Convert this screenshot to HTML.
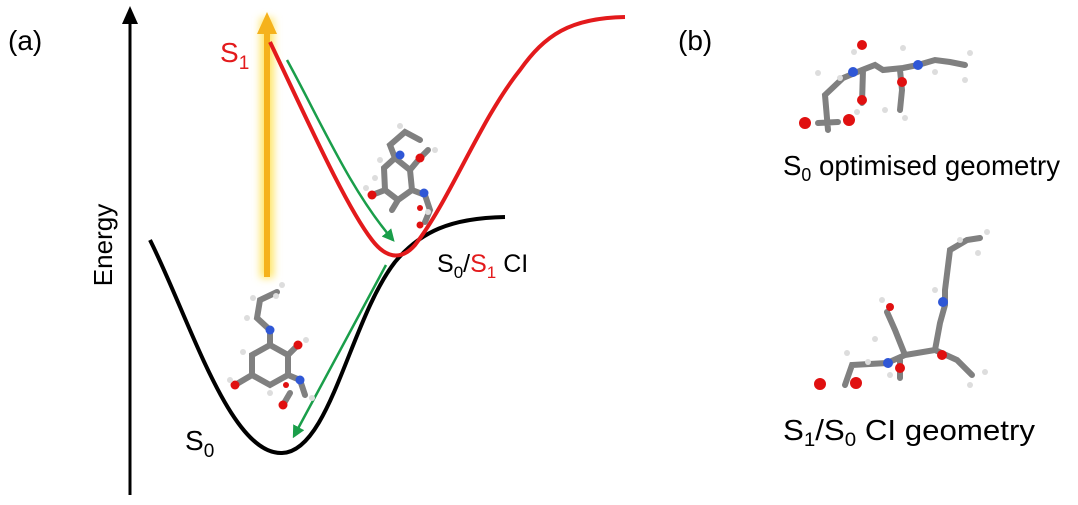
<!DOCTYPE html>
<html><head><style>
html,body{margin:0;padding:0;background:#fff;}
svg{display:block;font-family:"Liberation Sans","DejaVu Sans",sans-serif;}
.b{stroke:#808080;stroke-width:6;stroke-linecap:round;fill:none}
</style></head><body>
<svg width="1078" height="505" viewBox="0 0 1078 505" xmlns="http://www.w3.org/2000/svg">
<defs>
<filter id="glow" x="-3" y="-1" width="7" height="3"><feGaussianBlur stdDeviation="4"/></filter>
<marker id="ga" viewBox="0 0 10 10" refX="8" refY="5" markerWidth="5" markerHeight="5" orient="auto"><path d="M0,0L10,5L0,10z" fill="#1a9e4a"/></marker>
</defs>
<text x="8" y="50" font-size="28">(a)</text>
<text x="678" y="50" font-size="28">(b)</text>
<line x1="130" y1="495" x2="130" y2="22" stroke="#000" stroke-width="3"/>
<path d="M122,24 L130,6 L138,24z" fill="#000"/>
<text transform="translate(112,245) rotate(-90)" font-size="26" text-anchor="middle">Energy</text>
<rect x="260" y="18" width="14" height="260" fill="#ffe66b" filter="url(#glow)"/>
<line x1="267" y1="277" x2="267" y2="30" stroke="#f5b21c" stroke-width="6"/>
<path d="M257,34 L267,12 L277,34z" fill="#f5b21c"/>
<path d="M150,240 C190,320 230,455 282,453 C330,452 350,320 395,262 C420,232 450,218 505,217" stroke="#000" stroke-width="4" fill="none"/>
<path d="M270,42 C305,115 345,205 372,240 C385,257 400,262 415,245 C450,200 480,120 520,70 C545,35 570,18 625,17" stroke="#e31a1c" stroke-width="4" fill="none"/>
<path d="M287,60 C320,120 350,190 393,240" stroke="#1a9e4a" stroke-width="2.5" fill="none" marker-end="url(#ga)"/>
<line x1="386" y1="265" x2="294" y2="436" stroke="#1a9e4a" stroke-width="2.5" marker-end="url(#ga)"/>
<text x="220" y="62" font-size="28" fill="#e31a1c">S<tspan font-size="19" dy="7">1</tspan></text>
<text x="185" y="450" font-size="28">S<tspan font-size="19" dy="7">0</tspan></text>
<text x="437" y="272" font-size="25">S<tspan font-size="17" dy="6">0</tspan><tspan dy="-6">/</tspan><tspan fill="#e31a1c">S</tspan><tspan font-size="17" dy="6" fill="#e31a1c">1</tspan><tspan dy="-6"> CI</tspan></text>
<g>
<path class="b" d="M270,345 L288,355 L288,375 L270,385 L252,375 L252,355 Z M270,345 L270,330 L257,318 L260,300 L277,292 M288,355 L298,345 M288,375 L300,380 L305,395 M290,393 L283,405 M252,375 L235,385"/>
<circle cx="270" cy="330" r="4.5" fill="#2f57d6"/><circle cx="300" cy="380" r="4.5" fill="#2f57d6"/>
<circle cx="298" cy="345" r="4.5" fill="#e01010"/><circle cx="235" cy="385" r="4.5" fill="#e01010"/>
<circle cx="283" cy="405" r="4.5" fill="#e01010"/><circle cx="286" cy="385" r="3" fill="#e01010"/>
<g fill="#ddd"><circle cx="247" cy="318" r="3"/><circle cx="253" cy="298" r="3"/><circle cx="282" cy="285" r="3"/><circle cx="276" cy="296" r="3"/><circle cx="306" cy="340" r="3"/><circle cx="243" cy="352" r="3"/><circle cx="270" cy="393" r="3"/><circle cx="230" cy="380" r="3"/><circle cx="312" cy="398" r="3"/></g>
</g>
<g>
<path class="b" d="M395,158 L410,170 L412,190 L398,200 L385,190 L384,168 Z M395,158 L390,145 L405,132 L420,140 M410,170 L420,158 L428,150 M412,190 L425,195 L430,210 L425,222 M398,200 L392,210 M385,190 L372,195"/>
<circle cx="400" cy="155" r="4.5" fill="#2f57d6"/><circle cx="424" cy="193" r="4.5" fill="#2f57d6"/>
<circle cx="420" cy="158" r="4.5" fill="#e01010"/><circle cx="372" cy="195" r="4.5" fill="#e01010"/>
<circle cx="420" cy="208" r="3" fill="#e01010"/><circle cx="420" cy="225" r="3.5" fill="#e01010"/>
<g fill="#ddd"><circle cx="400" cy="126" r="3"/><circle cx="380" cy="160" r="3"/><circle cx="375" cy="178" r="3"/><circle cx="428" cy="212" r="3"/><circle cx="435" cy="150" r="3"/><circle cx="366" cy="188" r="3"/></g>
</g>
<g>
<path class="b" d="M828,130 L825,95 L843,78 L862,70 L875,65 L883,70 L903,68 L918,65 L935,60 L950,62 L965,65 M863,70 L862,103 M900,70 L902,90 L900,110 M818,123 L838,122"/>
<circle cx="853" cy="72" r="5" fill="#2f57d6"/><circle cx="918" cy="65" r="5" fill="#2f57d6"/>
<circle cx="862" cy="100" r="5" fill="#e01010"/><circle cx="902" cy="82" r="5" fill="#e01010"/>
<circle cx="862" cy="45" r="5" fill="#e01010"/><circle cx="805" cy="123" r="6" fill="#e01010"/><circle cx="849" cy="120" r="6" fill="#e01010"/>
<g fill="#ddd"><circle cx="818" cy="73" r="3"/><circle cx="840" cy="78" r="3"/><circle cx="854" cy="52" r="3"/><circle cx="903" cy="48" r="3"/><circle cx="885" cy="110" r="3"/><circle cx="905" cy="118" r="3"/><circle cx="935" cy="72" r="3"/><circle cx="970" cy="53" r="3"/><circle cx="965" cy="80" r="3"/><circle cx="857" cy="112" r="3"/></g>
</g>
<g>
<path class="b" d="M845,385 L852,365 L887,363 L905,355 L935,350 L940,323 L945,305 L945,290 L950,250 L967,240 L980,238 M905,355 L895,330 L887,312 M935,350 L957,360 L972,375 M900,360 L900,378"/>
<circle cx="888" cy="363" r="5" fill="#2f57d6"/><circle cx="943" cy="302" r="5" fill="#2f57d6"/>
<circle cx="900" cy="368" r="5" fill="#e01010"/><circle cx="942" cy="355" r="5" fill="#e01010"/><circle cx="890" cy="307" r="4" fill="#e01010"/>
<circle cx="820" cy="384" r="6" fill="#e01010"/><circle cx="856" cy="383" r="6" fill="#e01010"/>
<g fill="#ddd"><circle cx="847" cy="353" r="3"/><circle cx="868" cy="362" r="3"/><circle cx="875" cy="339" r="3"/><circle cx="882" cy="300" r="3"/><circle cx="890" cy="375" r="3"/><circle cx="935" cy="290" r="3"/><circle cx="960" cy="240" r="3"/><circle cx="987" cy="232" r="3"/><circle cx="978" cy="253" r="3"/><circle cx="970" cy="385" r="3"/><circle cx="985" cy="372" r="3"/></g>
</g>
<text x="783" y="175" font-size="28" textLength="277" lengthAdjust="spacingAndGlyphs">S<tspan font-size="18" dy="6">0</tspan><tspan dy="-6"> optimised geometry</tspan></text>
<text x="783" y="440" font-size="29" textLength="252" lengthAdjust="spacingAndGlyphs">S<tspan font-size="19" dy="6">1</tspan><tspan dy="-6">/S</tspan><tspan font-size="19" dy="6">0</tspan><tspan dy="-6"> CI geometry</tspan></text>
</svg>
</body></html>
